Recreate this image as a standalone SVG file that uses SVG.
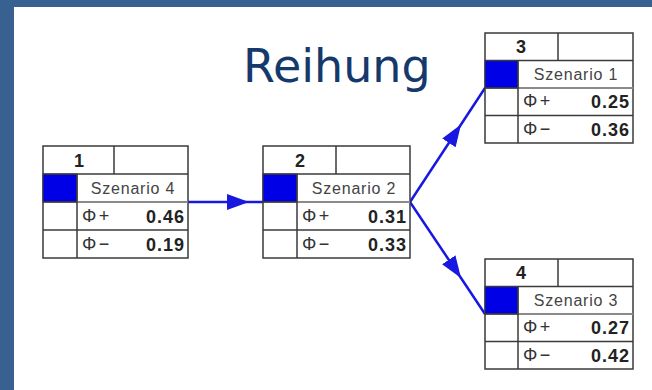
<svg xmlns="http://www.w3.org/2000/svg" width="652" height="390" viewBox="0 0 652 390">
<style>
.frame{fill:#386090}
.title{font-family:"DejaVu Sans",sans-serif;font-size:46px;fill:#15396b}
.box{fill:#fff;stroke:#3a3a3a;stroke-width:1.5}
.ln{stroke:#3a3a3a;stroke-width:1.5}
.lg{stroke:#8a8a8a;stroke-width:2}
.sq{fill:#0000e6;stroke:#3a3a3a;stroke-width:1}
.num{font-family:"Liberation Sans",Arial,sans-serif;font-size:18px;font-weight:bold;fill:#222;text-anchor:middle}
.name{font-family:"Liberation Sans",Arial,sans-serif;font-size:16px;fill:#444;text-anchor:middle;letter-spacing:0.8px}
.phi{font-family:"Liberation Sans",Arial,sans-serif;font-size:18px;fill:#333;letter-spacing:2.5px}
.val{font-family:"Liberation Sans",Arial,sans-serif;font-size:18px;font-weight:bold;fill:#222;text-anchor:end;letter-spacing:1px}
.con{fill:none;stroke:#1818e0;stroke-width:2.5;marker-mid:url(#ah)}
</style>
<defs>
<marker id="ah" markerUnits="userSpaceOnUse" viewBox="0 0 22 16" markerWidth="22" markerHeight="16" refX="22" refY="8" orient="auto">
<path d="M0,0 L22,8 L0,16 z" fill="#1818e0"/>
</marker>
</defs>
<rect x="0" y="0" width="652" height="390" fill="#fff"/>
<rect class="frame" x="0" y="0" width="652" height="7"/>
<rect class="frame" x="0" y="0" width="14" height="390"/>
<text class="title" x="243" y="82">Reihung</text>

<g id="connectors">
<path class="con" d="M188,202 L249,202 L263,202"/>
<path class="con" d="M410,202 L461,124.5 L485,88"/>
<path class="con" d="M410,202 L461,278 L485,314"/>
</g>

<g id="node1">
<rect class="box" x="43" y="146" width="145" height="112"/>
<rect class="sq" x="43" y="174" width="34" height="28"/>
<line class="ln" x1="43" y1="174" x2="188" y2="174"/>
<line class="lg" x1="77" y1="202" x2="188" y2="202"/>
<line class="ln" x1="43" y1="202" x2="77" y2="202"/>
<line class="ln" x1="43" y1="230" x2="188" y2="230"/>
<line class="ln" x1="77" y1="174" x2="77" y2="258"/>
<line class="ln" x1="114" y1="146" x2="114" y2="174"/>
<text class="num" x="79" y="167">1</text>
<text class="name" x="133" y="194">Szenario 4</text>
<text class="phi" x="82" y="222">Φ+</text>
<text class="val" x="185" y="223">0.46</text>
<text class="phi" x="82" y="250">Φ−</text>
<text class="val" x="185" y="251">0.19</text>
</g>

<g id="node2">
<rect class="box" x="263" y="146" width="147" height="112"/>
<rect class="sq" x="263" y="174" width="34" height="28"/>
<line class="ln" x1="263" y1="174" x2="410" y2="174"/>
<line class="lg" x1="297" y1="202" x2="410" y2="202"/>
<line class="ln" x1="263" y1="202" x2="297" y2="202"/>
<line class="ln" x1="263" y1="230" x2="410" y2="230"/>
<line class="ln" x1="297" y1="174" x2="297" y2="258"/>
<line class="ln" x1="336" y1="146" x2="336" y2="174"/>
<text class="num" x="300" y="167">2</text>
<text class="name" x="354" y="194">Szenario 2</text>
<text class="phi" x="302" y="222">Φ+</text>
<text class="val" x="407" y="223">0.31</text>
<text class="phi" x="302" y="250">Φ−</text>
<text class="val" x="407" y="251">0.33</text>
</g>

<g id="node3">
<rect class="box" x="485" y="33" width="148" height="110"/>
<rect class="sq" x="485" y="60.5" width="33" height="27.5"/>
<line class="ln" x1="485" y1="60.5" x2="633" y2="60.5"/>
<line class="lg" x1="518" y1="88" x2="633" y2="88"/>
<line class="ln" x1="485" y1="88" x2="518" y2="88"/>
<line class="ln" x1="485" y1="115.5" x2="633" y2="115.5"/>
<line class="ln" x1="518" y1="60.5" x2="518" y2="143"/>
<line class="ln" x1="558" y1="33" x2="558" y2="60.5"/>
<text class="num" x="521" y="53">3</text>
<text class="name" x="576" y="80">Szenario 1</text>
<text class="phi" x="523" y="107">Φ+</text>
<text class="val" x="630" y="108">0.25</text>
<text class="phi" x="523" y="135">Φ−</text>
<text class="val" x="630" y="136">0.36</text>
</g>

<g id="node4">
<rect class="box" x="485" y="259" width="148" height="110"/>
<rect class="sq" x="485" y="286.5" width="33" height="27.5"/>
<line class="ln" x1="485" y1="286.5" x2="633" y2="286.5"/>
<line class="lg" x1="518" y1="314" x2="633" y2="314"/>
<line class="ln" x1="485" y1="314" x2="518" y2="314"/>
<line class="ln" x1="485" y1="341.5" x2="633" y2="341.5"/>
<line class="ln" x1="518" y1="286.5" x2="518" y2="369"/>
<line class="ln" x1="558" y1="259" x2="558" y2="286.5"/>
<text class="num" x="521" y="279">4</text>
<text class="name" x="576" y="306">Szenario 3</text>
<text class="phi" x="523" y="333">Φ+</text>
<text class="val" x="630" y="334">0.27</text>
<text class="phi" x="523" y="361">Φ−</text>
<text class="val" x="630" y="362">0.42</text>
</g>
</svg>
